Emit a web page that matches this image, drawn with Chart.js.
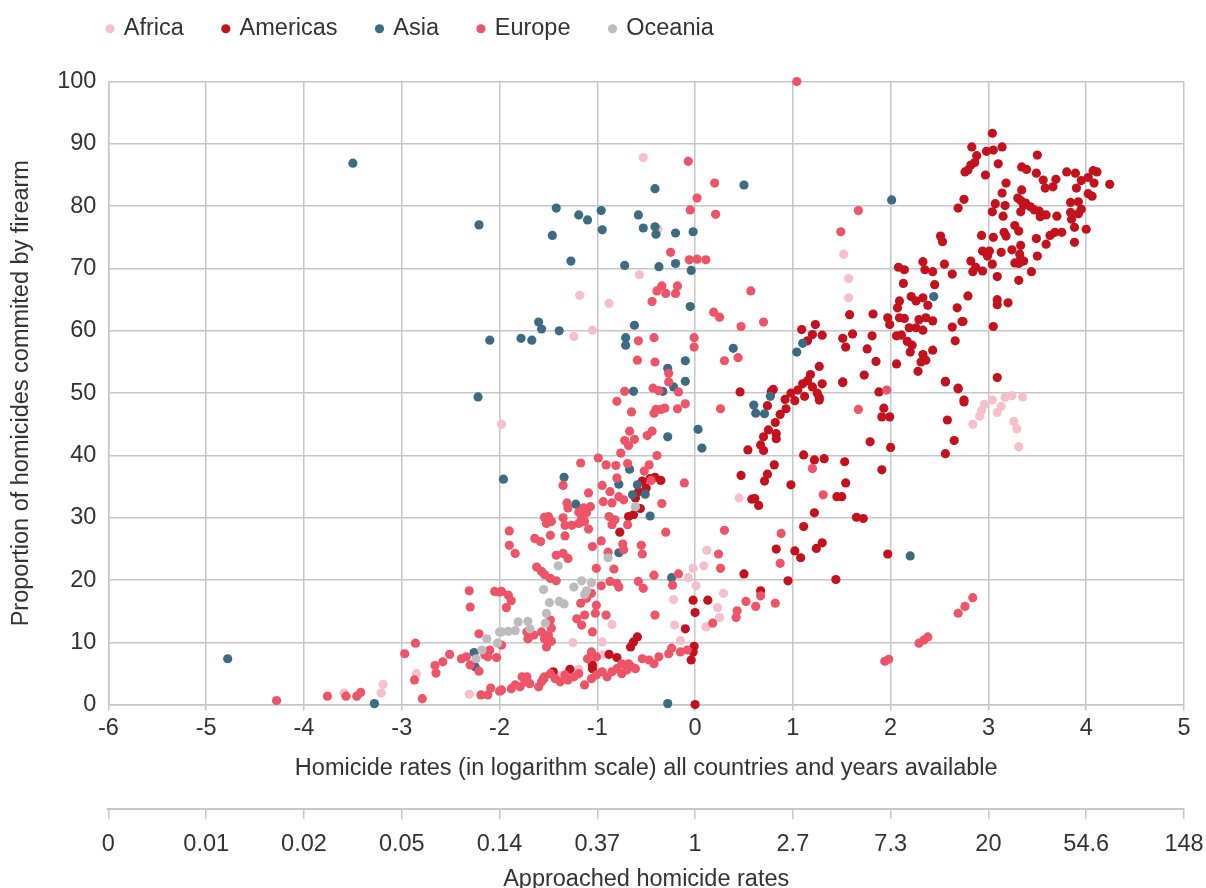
<!DOCTYPE html>
<html>
<head>
<meta charset="utf-8">
<script src="https://cdn.jsdelivr.net/npm/chart.js@4/dist/chart.umd.min.js"></script>
<style>
  html, body { margin: 0; padding: 0; background: #fff; }
  #wrap { width: 1206px; height: 888px; }
</style>
</head>
<body>
<div id="wrap"><canvas id="chart"></canvas></div>
<script>
// Homicide rates (log) vs share of homicides committed by firearm

const regions = ["Africa", "Americas", "Asia", "Europe", "Oceania"];
const regionColors = ["#f7bfcc", "#c3121e", "#3e6b84", "#ee5467", "#bcbcbf"];

// second axis labels: e^x for x = -6 .. 5
const rateLabels = ["0", "0.01", "0.02", "0.05", "0.14", "0.37", "1", "2.7", "7.3", "20", "54.6", "148"];

// [log homicide rate, % by firearm]
const africa = [
  [-0.53, 87.8], [-0.57, 69.0], [-1.18, 65.7], [-0.88, 64.4], [-1.05, 60.1], [-1.24, 59.1],
  [-0.38, 76.3], [1.52, 72.3], [1.57, 68.4], [1.57, 65.3], [-1.98, 45.0],
  [2.84, 45.0], [2.91, 46.3], [2.93, 47.2], [2.96, 48.2], [3.04, 48.9], [3.09, 46.9],
  [3.13, 47.9], [3.17, 49.3], [3.24, 49.6], [3.35, 49.4], [3.26, 45.5], [3.29, 44.3], [3.31, 41.4],
  [0.45, 33.2], [0.12, 24.8], [0.09, 22.3], [-0.02, 21.9], [-0.07, 20.4], [0.01, 19.1],
  [0.29, 17.9], [-0.22, 16.9], [0.23, 15.6], [0.25, 14.0], [0.11, 12.5], [-0.21, 12.8],
  [-0.85, 12.9], [-0.15, 10.3], [-1.25, 10.0], [-0.95, 10.1], [-0.95, 8.0], [-1.09, 7.3],
  [-1.19, 5.7], [-1.37, 4.7], [-3.59, 1.9], [-3.19, 3.3], [-3.21, 1.9], [-2.85, 5.0], [-2.31, 1.7]
];

const americas = [
  [3.04, 91.7], [2.83, 89.5], [2.98, 88.8], [3.05, 89.0], [3.14, 89.5], [2.88, 88.1],
  [2.79, 85.8], [2.82, 86.6], [2.76, 85.5], [2.86, 87.0], [3.10, 86.8], [2.97, 85.0],
  [3.50, 88.2], [3.34, 86.3], [3.39, 85.9], [3.49, 85.3], [3.56, 84.2], [3.69, 84.3],
  [3.66, 83.1], [3.58, 82.9], [3.80, 85.5], [3.89, 85.3], [4.07, 85.7], [4.11, 85.5],
  [4.02, 84.6], [3.95, 84.1], [4.08, 83.7], [4.24, 83.5], [3.90, 82.9], [4.02, 82.0],
  [4.06, 81.6], [3.18, 83.7], [3.14, 82.1], [3.34, 82.6], [3.30, 81.3], [3.33, 80.9],
  [3.38, 80.5], [3.43, 79.9], [3.47, 79.4], [3.52, 79.2], [3.36, 80.1], [3.07, 80.4],
  [3.17, 80.1], [3.04, 79.1], [3.15, 78.4], [3.33, 79.1], [3.53, 78.3], [3.59, 78.6],
  [3.70, 78.4], [3.84, 80.6], [3.92, 80.7], [3.95, 79.5], [3.84, 79.0], [3.92, 78.8],
  [3.85, 77.9], [3.88, 76.6], [4.00, 76.3], [3.88, 74.2], [3.75, 75.8], [3.68, 75.8],
  [3.63, 75.3], [3.59, 73.9], [3.49, 74.8], [3.50, 72.0], [3.27, 76.9], [3.31, 76.0],
  [3.16, 75.8], [3.18, 75.2], [2.93, 75.3], [3.05, 75.0], [2.94, 72.8], [3.01, 72.8],
  [2.99, 72.0], [3.13, 72.6], [3.24, 73.0], [3.33, 73.7], [3.32, 72.3], [3.33, 71.5],
  [3.27, 70.9], [3.31, 70.8], [3.36, 71.2], [3.44, 69.5], [3.31, 68.1], [2.82, 71.2],
  [2.87, 70.2], [2.84, 69.5], [2.94, 69.6], [3.04, 70.7], [3.09, 68.7], [2.79, 65.6],
  [3.09, 65.0], [3.09, 64.2], [3.20, 64.5], [2.68, 63.7], [2.73, 61.5], [2.66, 58.4],
  [3.05, 60.7], [3.09, 52.5], [2.69, 50.7],
  [2.75, 81.1], [2.69, 79.7], [2.51, 75.2], [2.53, 74.3], [2.33, 71.1], [2.55, 70.7],
  [2.08, 70.2], [2.14, 69.8], [2.35, 69.8], [2.43, 69.5], [2.63, 69.1], [2.13, 67.6],
  [2.45, 67.4], [2.21, 65.5], [2.09, 64.8], [2.26, 64.8], [2.33, 65.3], [2.38, 64.1],
  [2.07, 63.7], [1.58, 62.6], [1.82, 62.7], [1.97, 62.1], [2.09, 62.1], [2.14, 62.0],
  [2.29, 61.8], [2.36, 62.1], [2.43, 61.6], [1.99, 61.0], [2.19, 60.5], [2.26, 60.5],
  [2.33, 60.1], [2.63, 60.6], [2.74, 61.5], [2.06, 59.2], [2.11, 59.3], [2.17, 58.3],
  [2.22, 57.7], [2.20, 56.6], [2.43, 56.9], [2.33, 56.2], [2.36, 55.3], [2.31, 55.0],
  [2.28, 53.5], [2.06, 54.7], [1.85, 55.1], [1.76, 57.1], [1.81, 59.2], [1.51, 58.8],
  [1.54, 57.4], [1.61, 59.5], [1.30, 59.3], [1.23, 61.0], [1.09, 60.2], [1.20, 59.4],
  [1.15, 58.4], [1.27, 54.3], [1.73, 52.9], [1.51, 51.8], [1.88, 50.2], [2.56, 51.9],
  [2.69, 50.8], [2.75, 48.9],
  [0.92, 49.0], [0.98, 50.0], [1.05, 50.5], [1.10, 51.5], [1.15, 52.0], [1.20, 51.0],
  [1.25, 50.0], [1.30, 51.5], [1.02, 48.8], [1.27, 48.9], [0.80, 50.6], [1.18, 53.0], [1.12, 49.5],
  [0.78, 50.3], [0.74, 48.0], [0.93, 47.5], [0.87, 46.6], [0.82, 45.3], [0.75, 44.1],
  [0.83, 43.5], [0.83, 42.7], [0.70, 43.0], [0.67, 41.7], [0.70, 40.8], [0.81, 38.5],
  [0.74, 37.0], [0.71, 35.9], [0.61, 33.1], [0.65, 32.0], [0.98, 35.3], [1.11, 40.1],
  [1.22, 39.3], [1.32, 39.5], [1.53, 39.0], [1.54, 35.6], [1.45, 33.4], [1.50, 33.4],
  [1.22, 30.8], [1.11, 28.6], [0.83, 25.0], [1.02, 24.7], [1.08, 23.6], [1.24, 25.1],
  [1.30, 26.0], [0.95, 19.9], [1.44, 20.1], [0.67, 18.3], [1.65, 30.1], [1.72, 29.9],
  [1.97, 24.2], [1.79, 42.2], [1.91, 37.7], [2.00, 41.3], [1.93, 47.6], [1.99, 46.2],
  [1.91, 46.2], [1.51, 51.7], [1.27, 49.3], [2.58, 45.7], [2.65, 42.4], [2.56, 40.3],
  [2.75, 48.6], [2.56, 51.8],
  [0.46, 50.2], [0.54, 40.9], [0.47, 36.8], [0.58, 33.0], [0.50, 21.0], [-0.54, 35.9],
  [-0.46, 36.3], [-0.41, 36.5], [-0.35, 36.0], [-0.58, 34.2], [-0.61, 33.2], [-0.56, 31.5],
  [-0.63, 30.5], [-0.68, 30.2], [-0.50, 34.8], [-0.77, 27.7], [-0.02, 16.8], [0.13, 16.8],
  [0.00, 14.8], [-0.10, 12.2], [-0.59, 10.9], [-0.63, 10.1], [-0.66, 9.3], [-0.01, 9.4],
  [-0.02, 8.5], [-0.04, 7.2], [-0.88, 8.1], [-0.80, 7.6], [-1.05, 6.4], [-1.05, 5.8],
  [-1.28, 5.7], [-1.45, 5.3], [-1.55, 4.2], [0.00, 0.05]
];

const asia = [
  [-3.50, 86.9], [-4.78, 7.4], [-3.28, 0.2], [-2.21, 77.0], [-2.10, 58.5], [-2.22, 49.4],
  [-1.96, 36.2], [-1.42, 79.7], [-1.19, 78.6], [-1.10, 77.8], [-0.96, 79.3], [-1.46, 75.3],
  [-0.95, 76.2], [-1.27, 71.2], [-0.58, 78.6], [-0.53, 76.5], [-0.41, 76.7], [-0.40, 75.5],
  [-0.20, 75.7], [-0.02, 75.9], [-0.41, 82.8], [0.50, 83.4], [-0.72, 70.5], [-0.37, 70.3],
  [-0.20, 70.8], [-0.04, 69.7], [-0.05, 63.9], [-1.60, 61.4], [-1.57, 60.3], [-1.78, 58.8],
  [-1.67, 58.5], [-1.39, 60.0], [-0.62, 60.9], [-0.71, 58.9], [-0.71, 57.7], [-0.10, 55.2],
  [-0.28, 54.0], [-0.10, 51.9], [-0.22, 51.0], [-0.33, 50.3], [-0.63, 50.3], [0.39, 57.2],
  [2.01, 81.0], [2.44, 65.5], [1.10, 58.0], [1.04, 56.6], [0.77, 49.5], [2.20, 23.9],
  [0.60, 48.1], [0.62, 46.8], [0.71, 46.7], [-0.28, 43.0], [0.03, 44.2], [0.07, 41.2],
  [-1.34, 36.5], [-0.67, 37.8], [-0.78, 35.4], [-0.59, 35.3], [-0.64, 33.7], [-0.51, 33.8],
  [-1.22, 32.2], [-0.46, 30.3], [-0.78, 24.4], [-0.24, 20.4], [-0.28, 0.2], [-2.26, 8.4], [-2.25, 6.1]
];

const europe = [
  [1.04, 100], [-0.07, 87.2], [0.20, 83.7], [0.02, 81.3], [-0.05, 79.4], [0.21, 78.7],
  [-0.25, 72.6], [-0.06, 71.4], [0.02, 71.5], [0.11, 71.4], [-0.34, 67.2], [-0.39, 66.4],
  [-0.30, 66.0], [-0.18, 67.2], [-0.20, 66.0], [-0.44, 64.7], [0.57, 66.4], [0.19, 63.0],
  [0.25, 62.2], [0.47, 60.7], [-0.58, 58.4], [-0.42, 58.9], [-0.01, 58.9], [-0.01, 57.4],
  [-0.59, 55.3], [-0.41, 55.0], [0.30, 55.2], [0.44, 55.7], [-0.27, 53.2], [-0.27, 51.8],
  [-0.43, 50.8], [-0.17, 50.2], [-0.72, 50.3], [-0.80, 48.7], [-0.37, 50.4],
  [1.67, 79.3], [1.49, 75.9], [0.70, 61.4], [1.96, 50.5], [1.67, 47.4], [1.20, 37.9],
  [1.31, 33.7], [0.88, 27.5], [0.87, 22.7], [0.67, 17.5], [0.62, 15.8], [0.82, 16.3],
  [2.84, 17.2], [2.76, 15.8], [2.69, 14.7], [2.29, 9.9], [2.34, 10.4], [2.38, 10.9],
  [1.94, 7.0], [1.98, 7.3],
  [-4.28, 0.7], [-3.76, 1.4], [-3.57, 1.4], [-3.46, 1.4], [-3.42, 2.0], [-2.97, 8.2],
  [-2.86, 9.9], [-2.51, 8.1], [-2.66, 6.3], [-2.65, 5.1], [-2.58, 6.9], [-2.87, 4.0],
  [-2.79, 1.0], [-2.31, 18.3], [-2.30, 15.7], [-2.05, 18.2], [-2.00, 18.1], [-2.21, 11.4],
  [-2.39, 7.4], [-2.34, 7.7], [-2.30, 6.4], [-2.21, 5.4], [-2.10, 8.8], [-2.12, 7.7],
  [-2.03, 7.6], [-2.15, 8.0], [-2.19, 1.6], [-2.12, 1.6], [-2.09, 2.7], [-2.00, 2.2],
  [-0.65, 47.0], [-0.40, 47.4], [-0.35, 47.4], [-0.31, 47.6], [-0.42, 46.8], [-0.18, 47.5],
  [-0.10, 48.3], [0.26, 47.5], [-0.67, 43.9], [-0.72, 42.4], [-0.68, 41.6], [-0.62, 42.6],
  [-0.76, 40.4], [-0.49, 43.2], [-0.44, 43.9], [-0.39, 40.0], [-0.99, 39.6], [-1.17, 38.8],
  [-0.91, 38.5], [-0.81, 38.4], [-0.69, 38.7], [-0.47, 38.5], [-0.52, 37.5], [-0.45, 36.0],
  [-0.11, 35.6], [-1.35, 35.2], [-1.09, 34.0], [-0.95, 35.2], [-0.87, 34.2], [-0.80, 36.4],
  [-0.78, 33.4], [-0.73, 32.9], [-0.94, 32.6], [-0.85, 32.4], [-0.34, 32.3], [-1.31, 32.4],
  [-1.30, 31.6], [-1.14, 31.6], [-1.19, 30.9], [-1.11, 30.8], [-1.07, 31.8], [-1.50, 30.2],
  [-1.54, 30.1], [-1.47, 29.4], [-1.52, 29.1], [-1.35, 30.0], [-1.33, 28.8], [-1.26, 28.8],
  [-1.19, 29.1], [-1.16, 30.0], [-1.13, 29.4], [-1.09, 28.2], [-0.88, 30.2], [-0.85, 28.9],
  [-0.82, 29.7], [-0.69, 28.9], [-1.90, 27.9], [-1.64, 26.7], [-1.58, 26.2], [-1.48, 27.2],
  [-1.33, 27.1], [-1.90, 25.6], [-1.84, 24.3], [-1.05, 25.4], [-0.96, 26.3], [-0.89, 24.5],
  [-0.74, 25.8], [-0.73, 24.9], [-0.55, 25.6], [-0.54, 24.2], [-0.30, 27.7], [0.30, 28.0],
  [-1.42, 24.0], [-1.35, 24.3], [-1.30, 23.5], [-1.62, 22.1], [-1.57, 21.4], [-1.54, 20.9],
  [-1.48, 20.3], [-1.42, 19.9], [-1.01, 21.9], [-0.83, 21.8], [-0.87, 19.8], [-0.80, 19.5],
  [-0.78, 18.9], [-0.96, 19.1], [-0.58, 19.8], [-0.53, 18.7], [-0.42, 20.8], [-0.17, 21.0],
  [-0.23, 19.2], [-1.17, 16.3], [-1.11, 17.1], [-1.06, 17.9], [-1.01, 16.0], [-1.02, 14.7],
  [-0.91, 14.4], [-1.21, 13.8], [-1.16, 12.8], [-1.13, 14.4], [-0.41, 14.4], [-1.98, 18.2],
  [-1.91, 17.6], [-1.88, 16.7], [-1.93, 15.6], [-1.48, 13.6], [-1.47, 12.3], [-1.50, 11.2],
  [-1.57, 11.7], [-1.54, 10.6], [-1.47, 10.2], [-1.52, 9.3], [-1.72, 11.7], [-1.71, 10.6],
  [-1.65, 11.2], [-1.98, 9.6], [-1.05, 11.7], [-1.06, 8.5], [-1.10, 7.4], [-1.01, 7.7],
  [0.24, 24.2], [0.26, 21.9], [0.52, 16.6], [0.43, 15.1], [0.42, 14.0], [0.18, 13.1],
  [-1.84, 3.2], [-1.79, 2.9], [-1.74, 3.7], [-1.69, 3.4], [-1.77, 4.5], [-1.72, 4.5],
  [-1.98, 2.4], [-1.88, 2.6], [-1.60, 2.9], [-1.57, 3.7], [-1.54, 4.5], [-1.48, 5.0],
  [-1.43, 4.2], [-1.38, 3.7], [-1.33, 4.8], [-1.30, 4.0], [-1.24, 4.5], [-1.19, 5.0],
  [-1.13, 3.2], [-1.06, 4.2], [-1.01, 4.8], [-0.95, 5.3], [-0.90, 4.5], [-0.85, 5.3],
  [-0.80, 5.8], [-0.75, 5.0], [-0.70, 5.6], [-0.65, 6.1], [-0.61, 5.8], [-0.68, 6.6],
  [-0.75, 6.6], [-0.54, 7.4], [-0.47, 7.2], [-0.42, 6.6], [-0.37, 7.7], [-0.27, 8.2],
  [-0.24, 9.1], [-0.15, 8.5], [-0.08, 8.8]
];

const oceania = [
  [-0.61, 31.8], [-0.89, 23.6], [-1.40, 22.3], [-1.16, 19.9], [-1.06, 19.6], [-1.24, 18.9],
  [-1.11, 18.3], [-1.13, 17.7], [-1.55, 18.5], [-1.49, 16.4], [-1.39, 16.6], [-1.34, 16.2],
  [-1.52, 14.7], [-1.53, 13.1], [-1.81, 13.3], [-1.71, 13.4], [-1.69, 12.2], [-1.84, 11.9],
  [-1.91, 11.8], [-1.98, 11.7], [-2.13, 10.6], [-2.18, 8.8], [-2.02, 9.9], [-2.00, 11.7], [-2.24, 7.4]
];

const seriesPoints = [africa, americas, asia, europe, oceania];

const GRID = "#c6c6cb";
const TEXT = "#333333";
const FONT_SIZE = 23.5;
Chart.defaults.font.family = "'Liberation Sans', Arial, sans-serif";
Chart.defaults.color = TEXT;

// move the legend so it starts above the plot area, like the original
const legendPlacer = {
  id: "legendPlacer",
  afterLayout(chart) {
    const lg = chart.legend;
    if (!lg) return;
    lg.left = 68;
    lg.top = -23;
  },
};

new Chart(document.getElementById("chart"), {
  type: "scatter",
  data: {
    datasets: regions.map((name, i) => ({
      label: name,
      data: seriesPoints[i].map(([x, y]) => ({ x, y })),
      backgroundColor: regionColors[i],
      borderWidth: 0,
      pointRadius: 4.6,
      pointHoverRadius: 4.6,
      order: regions.length - i,
      clip: false,
    })),
  },
  options: {
    responsive: true,
    maintainAspectRatio: false,
    animation: false,
    layout: { padding: { top: 8, left: 0, right: 22, bottom: -4 } },
    plugins: {
      tooltip: { enabled: false },
      legend: {
        position: "top",
        align: "start",
        reverse: true,
        maxHeight: 81,
        labels: {
          usePointStyle: true,
          pointStyle: "circle",
          boxWidth: 4,
          boxHeight: 6.5,
          padding: 40,
          color: TEXT,
          font: { size: FONT_SIZE },
        },
      },
    },
    scales: {
      x: {
        type: "linear",
        position: "bottom",
        min: -6,
        max: 5,
        ticks: { stepSize: 1, padding: 4, color: TEXT, font: { size: FONT_SIZE } },
        grid: { color: GRID, lineWidth: 1.5, tickLength: 6 },
        border: { color: GRID, width: 1.5 },
        title: {
          display: true,
          text: "Homicide rates (in logarithm scale) all countries and years available",
          color: TEXT,
          font: { size: FONT_SIZE },
          padding: { top: 7, bottom: 27 },
        },
      },
      x2: {
        type: "linear",
        position: "bottom",
        min: -6,
        max: 5,
        ticks: {
          stepSize: 1,
          padding: 0,
          color: TEXT,
          font: { size: FONT_SIZE, lineHeight: 2.13 },
          callback: (v) => rateLabels[v + 6],
        },
        grid: { drawOnChartArea: false, color: GRID, lineWidth: 1.5, tickLength: 10 },
        border: { color: GRID, width: 2 },
        title: {
          display: true,
          text: "Approached homicide rates",
          color: TEXT,
          font: { size: FONT_SIZE, lineHeight: 1.05 },
          padding: { top: -2, bottom: 0 },
        },
      },
      y: {
        min: 0,
        max: 100,
        ticks: { stepSize: 10, padding: 12, color: TEXT, font: { size: FONT_SIZE } },
        grid: { color: GRID, lineWidth: 1.5, tickLength: 0 },
        border: { color: GRID, width: 1.5 },
        title: {
          display: true,
          text: "Proportion of homicides commited by firearm",
          color: TEXT,
          font: { size: FONT_SIZE },
          padding: { top: 7, bottom: 10 },
        },
      },
    },
  },
  plugins: [legendPlacer],
});
</script>
</body>
</html>
